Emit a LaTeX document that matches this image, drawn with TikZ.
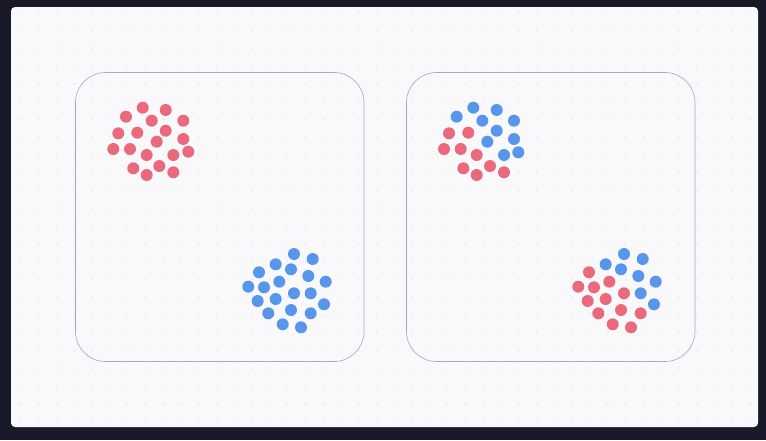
\documentclass[tikz,border=0pt]{standalone}
\definecolor{outerbg}{HTML}{181B27}
\definecolor{panelbg}{HTML}{F9F9FC}
\definecolor{griddot}{HTML}{E4E4EC}
\definecolor{boxline}{HTML}{A8A8B4}
\definecolor{redc}{HTML}{EA6A7C}
\definecolor{bluec}{HTML}{5896EC}
\tikzset{
  panel/.style={fill=panelbg, rounded corners=4pt},
  clusterbox/.style={draw=boxline, line width=0.6pt, rounded corners=30pt},
  reddot/.style={fill=redc},
  bluedot/.style={fill=bluec},
}
\begin{document}
\begin{tikzpicture}[x=1pt,y=-1pt]
\useasboundingbox (0,0) rectangle (766,440);
\fill[outerbg] (0,0) rectangle (766,440);
\fill[panel] (11,7) rectangle (758,427);
% dot grid
\foreach \i in {0,...,41} {
  \foreach \j in {0,...,23} {
    \fill[griddot] ({21+17.78*\i},{12.7+17.78*\j}) circle (0.9);
  }
}
\draw[clusterbox] (75.5,72.5) rectangle (364,361.5);
\draw[clusterbox] (406.5,72.5) rectangle (695,361.5);
% left top: all red
\foreach \x/\y in {142.7/107.7,165.7/110,126/116.7,151.7/120.7,183.3/120.7,118.3/133.3,137.3/132.7,165.7/130.7,183.3/139,156.7/141.7,113.3/149,130/149,146.7/155,173.3/155,188.3/151.7,133.3/168.3,159.3/166,173.3/172.3,146.7/175}
  \fill[reddot] (\x,\y) circle (6);
% left bottom: all blue
\foreach \x/\y in {294/254,312.7/259,275.7/264.3,291/269.3,259/272.3,308.3/276,325.7/281.7,248.3/286.7,264/287.3,279.3/281.7,294/293.3,310.7/293.3,257.7/301,275.7/299,324/304.3,291/310,310.7/313.3,268.3/313.3,282.7/324.3,301/327.3}
  \fill[bluedot] (\x,\y) circle (6);
% right top
\foreach \x/\y in {473.3/107.7,496.7/110,456.7/116.7,482.3/120.7,514/120.7,496.7/130.7,514/139,487.3/141.7,504/155,518.3/152.3}
  \fill[bluedot] (\x,\y) circle (6);
\foreach \x/\y in {449/133.3,468.3/132.7,444/149,460.7/149,476.7/155,463.3/168.3,490/166,504/172.3,476.7/175}
  \fill[reddot] (\x,\y) circle (6);
% right bottom
\foreach \x/\y in {624/254,642.7/259,605.7/264.3,621/269.3,638.3/276,655.7/281.7,640.7/293.3,654/304.3}
  \fill[bluedot] (\x,\y) circle (6);
\foreach \x/\y in {589/272.3,578.3/286.7,594/287.3,609.3/281.7,624/293.3,587.7/301,605.7/299,621/310,640.7/313.3,598.3/313.3,612.7/324.3,631/327.3}
  \fill[reddot] (\x,\y) circle (6);
\end{tikzpicture}
\end{document}
